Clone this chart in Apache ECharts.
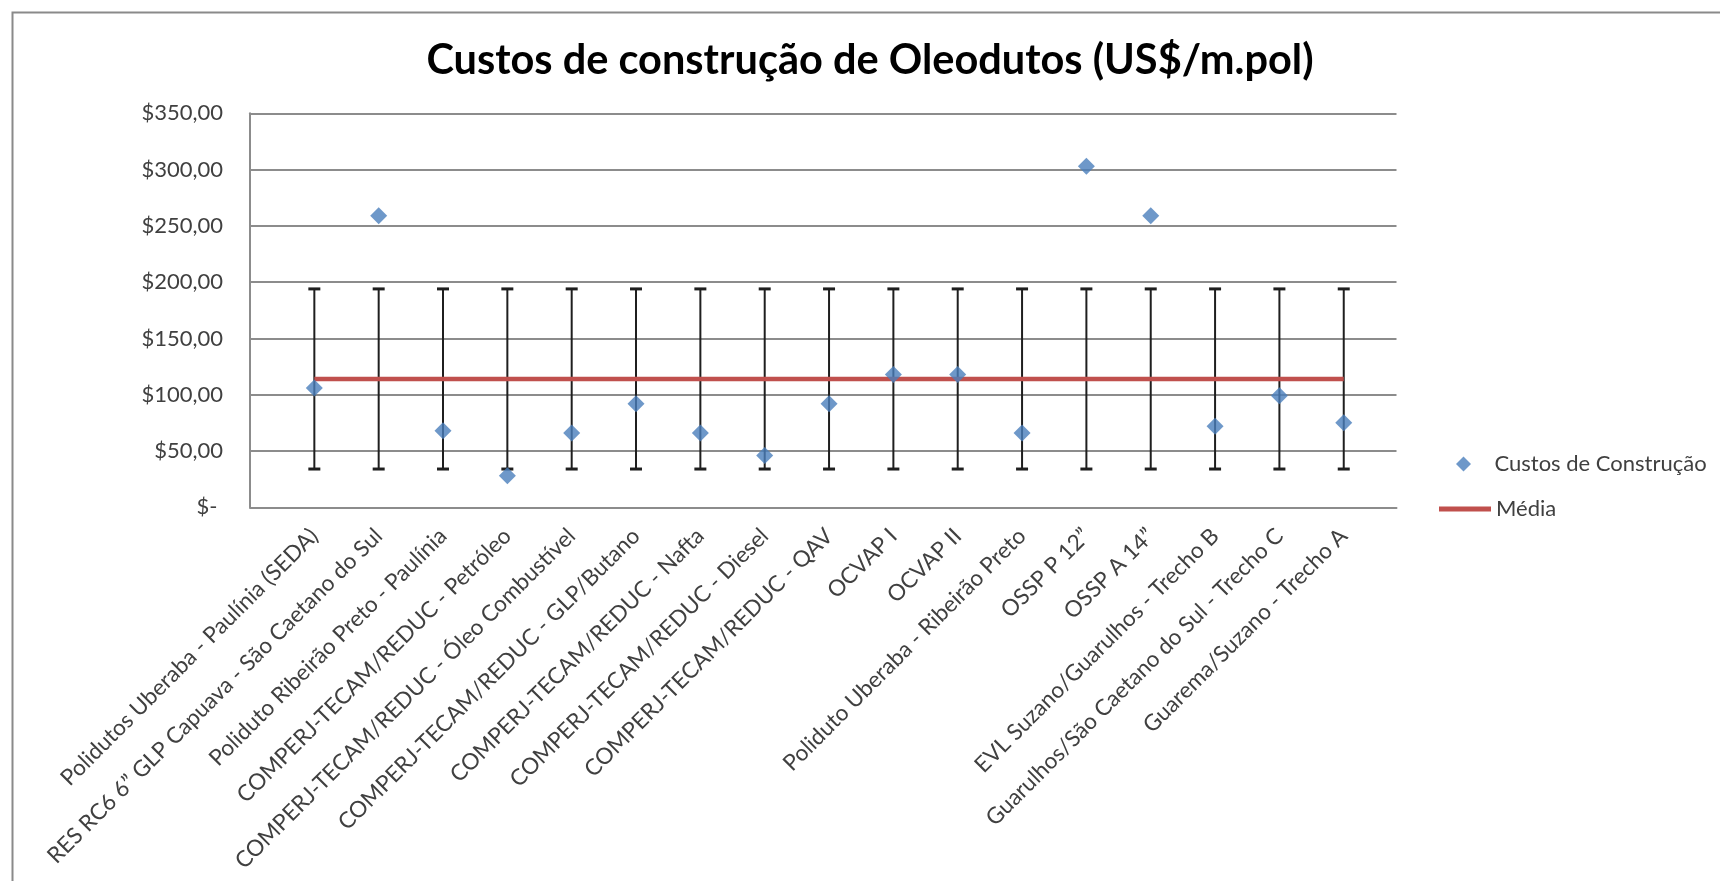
<!DOCTYPE html>
<html>
<head>
<meta charset="utf-8">
<title>Custos de construção de Oleodutos</title>
<script src="https://cdn.jsdelivr.net/npm/echarts@6/dist/echarts.min.js"></script>
<style>
  html, body { margin: 0; padding: 0; background: #fff; }
  #chart { width: 1720px; height: 881px; }
</style>
</head>
<body>
<div id="chart"></div>
<script>
const categories = [
  'Polidutos Uberaba - Paulínia (SEDA)',
  'RES RC6 6” GLP Capuava - São Caetano do Sul',
  'Poliduto Ribeirão Preto - Paulínia',
  'COMPERJ-TECAM/REDUC - Petróleo',
  'COMPERJ-TECAM/REDUC - Óleo Combustível',
  'COMPERJ-TECAM/REDUC - GLP/Butano',
  'COMPERJ-TECAM/REDUC - Nafta',
  'COMPERJ-TECAM/REDUC - Diesel',
  'COMPERJ-TECAM/REDUC - QAV',
  'OCVAP I',
  'OCVAP II',
  'Poliduto Uberaba - Ribeirão Preto',
  'OSSP P 12”',
  'OSSP A 14”',
  'EVL Suzano/Guarulhos - Trecho B',
  'Guarulhos/São Caetano do Sul - Trecho C',
  'Guarema/Suzano - Trecho A'
];

// US$/m.pol
const custos = [106, 259, 68, 28, 66, 92, 66, 46, 92, 118, 118, 66, 303, 259, 72, 99, 75];

// mean line and its error bar (+/-)
const media = 114;
const desvio = 80;

const yTicks = [0, 50, 100, 150, 200, 250, 300, 350];

const chartInit = () => {
  const $chart = document.getElementById('chart');
  const chart = echarts.init($chart);

  const font = 'Lato';
  const textColor = '#404040';
  const gridColor = '#8c8c8c';

  const scatterData = custos.map((v, i) => [i + 1, v]);
  const mediaData = categories.map((c, i) => [i + 1, media]);
  const errorData = categories.map((c, i) => [i + 1, media - desvio, media + desvio]);

  const renderErrorBar = (params, api) => {
    const x = api.value(0);
    const low = api.coord([x, api.value(1)]);
    const high = api.coord([x, api.value(2)]);
    const cap = 6;
    const stem = { stroke: '#1f1f1f', lineWidth: 2 };
    const capStyle = { stroke: '#1f1f1f', lineWidth: 3 };
    return {
      type: 'group',
      children: [
        { type: 'line', shape: { x1: high[0], y1: high[1], x2: low[0], y2: low[1] }, style: stem },
        { type: 'line', shape: { x1: high[0] - cap, y1: high[1], x2: high[0] + cap, y2: high[1] }, style: capStyle },
        { type: 'line', shape: { x1: low[0] - cap, y1: low[1], x2: low[0] + cap, y2: low[1] }, style: capStyle }
      ]
    };
  };

  const legendText = { fontFamily: font, fontSize: 22, color: textColor };

  chart.setOption({
    backgroundColor: '#fff',
    animation: false,
    title: {
      text: 'Custos de construção de Oleodutos (US$/m.pol)',
      left: 865,
      textAlign: 'center',
      top: 35,
      textStyle: {
        fontFamily: font,
        fontSize: 41.5,
        fontWeight: 'bold',
        color: '#000'
      }
    },
    graphic: [
      {
        type: 'rect',
        left: 10,
        top: 10,
        shape: { width: 1760, height: 920 },
        style: { fill: 'none', stroke: '#8a8a8a', lineWidth: 2 },
        silent: true
      }
    ],
    legend: [
      {
        data: [{ name: 'Custos de Construção', icon: 'path://M1,0L2,1L1,2L0,1Z' }],
        left: 1451,
        top: 448,
        itemWidth: 52,
        itemHeight: 15,
        symbolKeepAspect: true,
        textStyle: legendText
      },
      {
        data: [{ name: 'Média', icon: 'rect' }],
        left: 1434,
        top: 493,
        itemWidth: 52,
        itemHeight: 5,
        textStyle: legendText
      }
    ],
    grid: {
      left: 250,
      right: 323.5,
      top: 113.3,
      bottom: 373.7,
      containLabel: false
    },
    xAxis: {
      type: 'value',
      min: 0,
      max: 17.82,
      interval: 1,
      axisLine: { show: true, lineStyle: { color: gridColor, width: 2 } },
      axisTick: { show: false },
      splitLine: { show: false },
      axisLabel: {
        rotate: 45,
        margin: 25,
        fontFamily: font,
        fontSize: 22.5,
        color: textColor,
        showMaxLabel: false,
        formatter: v => categories[v - 1] || ''
      }
    },
    yAxis: {
      type: 'value',
      min: yTicks[0],
      max: yTicks[yTicks.length - 1],
      interval: 50,
      axisLine: { show: true, lineStyle: { color: gridColor, width: 2 } },
      axisTick: { show: false },
      splitLine: { show: true, lineStyle: { color: gridColor, width: 2 } },
      axisLabel: {
        margin: 27,
        fontFamily: font,
        fontSize: 22,
        color: textColor,
        formatter: v => (v === 0 ? '$- ' : '$' + v + ',00')
      }
    },
    series: [
      {
        name: 'erro',
        type: 'custom',
        renderItem: renderErrorBar,
        data: errorData,
        z: 1,
        silent: true
      },
      {
        name: 'Média',
        type: 'line',
        data: mediaData,
        symbol: 'none',
        lineStyle: { color: '#c0504d', width: 4.5 },
        itemStyle: { color: '#c0504d' },
        z: 2
      },
      {
        name: 'Custos de Construção',
        type: 'scatter',
        data: scatterData,
        symbol: 'diamond',
        symbolSize: [17, 17],
        itemStyle: { color: '#4a7ebb' },
        z: 3
      }
    ]
  });
};

chartInit();
</script>
</body>
</html>
